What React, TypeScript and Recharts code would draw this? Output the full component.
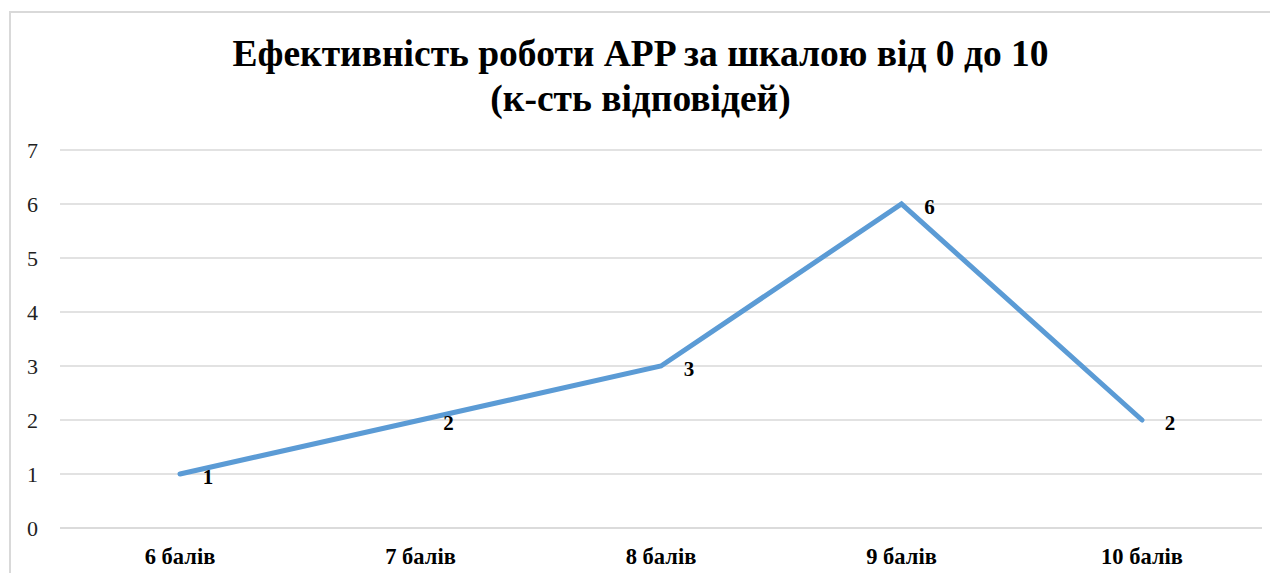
import { CartesianGrid, LabelList, Line, LineChart, XAxis, YAxis } from "recharts";

const categories = ["6 балів", "7 балів", "8 балів", "9 балів", "10 балів"];
const answers = [1, 2, 3, 6, 2];
const yTicks = [0, 1, 2, 3, 4, 5, 6, 7];

const data = categories.map((name, i) => ({ name, value: answers[i] }));

const FONT = '"Times New Roman", serif';

interface LabelProps {
  x?: number;
  y?: number;
  value?: number;
}

const renderValueLabel = ({ x = 0, y = 0, value }: LabelProps) => (
  <text
    x={x + 28}
    y={y + 3}
    textAnchor="middle"
    dominantBaseline="central"
    fontFamily={FONT}
    fontWeight="bold"
    fontSize={21}
    fill="#000"
  >
    {value}
  </text>
);

export default function App() {
  return (
    <div
      style={{
        position: "relative",
        marginTop: 3,
        marginLeft: 1,
        width: 1259,
        height: 560,
        borderTop: "2px solid #d9d9d9",
        borderLeft: "2px solid #d9d9d9",
      }}
    >
      <div
        style={{
          position: "absolute",
          top: 18,
          left: 0,
          width: 1259,
          textAlign: "center",
          fontFamily: FONT,
          fontWeight: "bold",
          fontSize: 37.5,
          lineHeight: "45px",
          color: "#000",
        }}
      >
        Ефективність роботи APP за шкалою від 0 до 10
        <br />
        (к-сть відповідей)
      </div>
      <LineChart
        width={1259}
        height={560}
        data={data}
        margin={{ top: 137, right: 8, left: 0, bottom: 0 }}
      >
        <CartesianGrid vertical={false} stroke="#d9d9d9" strokeWidth={1.5} />
        <XAxis
          dataKey="name"
          height={45}
          padding={{ left: 120, right: 120 }}
          axisLine={{ stroke: "#d9d9d9", strokeWidth: 1.5 }}
          tickLine={false}
          tickMargin={14}
          tick={{ fontFamily: FONT, fontWeight: "bold", fontSize: 22.5, fill: "#000" }}
        />
        <YAxis
          width={49}
          domain={[0, 7]}
          ticks={yTicks}
          axisLine={false}
          tickLine={false}
          tickMargin={16}
          tick={{ fontFamily: FONT, fontSize: 22, fill: "#222" }}
        />
        <Line
          type="linear"
          dataKey="value"
          stroke="#5b9bd5"
          strokeWidth={5}
          strokeLinecap="round"
          strokeLinejoin="miter"
          dot={false}
          activeDot={false}
          isAnimationActive={false}
        >
          <LabelList dataKey="value" content={renderValueLabel} />
        </Line>
      </LineChart>
    </div>
  );
}
